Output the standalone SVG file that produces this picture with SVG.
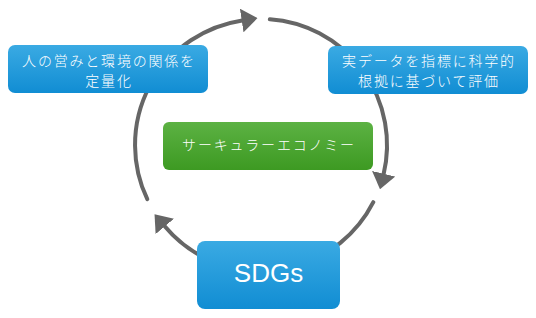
<svg xmlns="http://www.w3.org/2000/svg" width="536" height="318" viewBox="0 0 536 318">
  <style>
    .conn { fill: none; stroke: #666666; stroke-width: 4; stroke-linecap: round; }
    .blue { fill: url(#gBlue); }
    .green { fill: url(#gGreen); }
    .lbl { fill: #ffffff; font-family: "Noto Sans CJK JP", "Noto Sans", sans-serif; font-size: 14px; font-weight: 300; text-anchor: middle; letter-spacing: 1.8px; }
    .big { fill: #ffffff; font-family: "Liberation Sans", "Noto Sans", sans-serif; font-size: 26px; text-anchor: middle; }
  </style>
  <defs>
    <linearGradient id="gBlue" x1="0" y1="0" x2="0" y2="1">
      <stop offset="0" stop-color="#3aaae3"/>
      <stop offset="1" stop-color="#118dd3"/>
    </linearGradient>
    <linearGradient id="gGreen" x1="0" y1="0" x2="0" y2="1">
      <stop offset="0" stop-color="#5cb243"/>
      <stop offset="1" stop-color="#3d9a22"/>
    </linearGradient>
    <marker id="ah" markerUnits="userSpaceOnUse" markerWidth="16" markerHeight="24" viewBox="0 0 16 24" refX="0.5" refY="12" orient="auto">
      <path d="M0,0 L16,12 L0,24 z" fill="#666666"/>
    </marker>
  </defs>

  <g id="connectors">
    <path class="conn" d="M147.3,199.2 A126,126 0 0 1 242.2,20.4" marker-end="url(#ah)"/>
    <path class="conn" d="M269.8,19.3 A126,126 0 0 1 383.6,174.2" marker-end="url(#ah)"/>
    <path class="conn" d="M373.3,202.2 A126,126 0 0 1 293.6,266.7"/>
    <path class="conn" d="M228.4,266.7 A126,126 0 0 1 164.5,226.0" marker-end="url(#ah)"/>
  </g>

  <g id="node-left">
    <rect class="blue" x="8" y="45" width="200" height="48" rx="7"/>
    <text class="lbl"><tspan x="109" y="65.5">人の営みと環境の関係を</tspan><tspan x="109" y="86">定量化</tspan></text>
  </g>

  <g id="node-right">
    <rect class="blue" x="328" y="46" width="200" height="48" rx="7"/>
    <text class="lbl"><tspan x="429" y="65.5">実データを指標に科学的</tspan><tspan x="429" y="86">根拠に基づいて評価</tspan></text>
  </g>

  <g id="node-center">
    <rect class="green" x="163" y="122" width="210" height="48" rx="6"/>
    <text class="lbl" x="269" y="149.5">サーキュラーエコノミー</text>
  </g>

  <g id="node-sdgs">
    <rect class="blue" x="197" y="241" width="143" height="68" rx="8"/>
    <text class="big" x="268.5" y="282">SDGs</text>
  </g>
</svg>
